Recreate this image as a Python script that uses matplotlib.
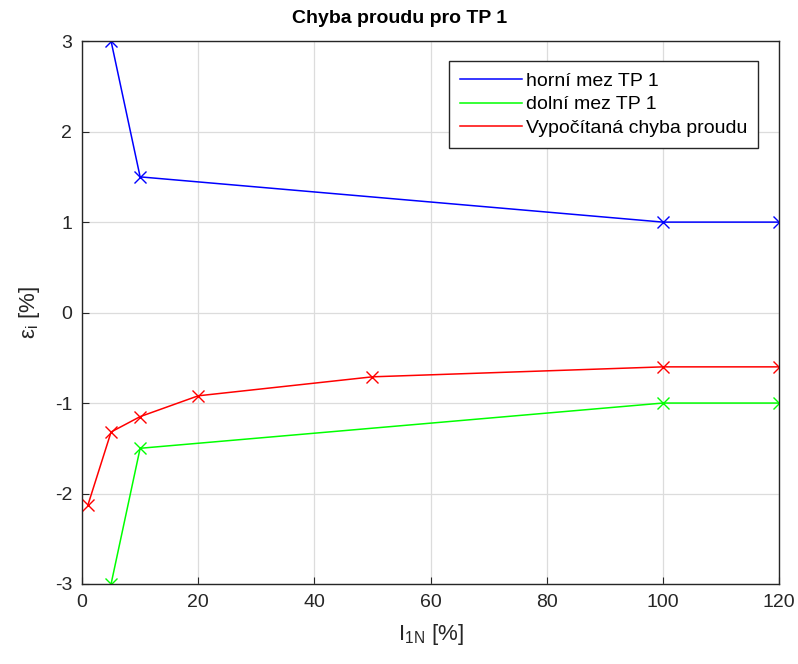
import matplotlib.pyplot as plt

# data
x_meze = [5, 10, 100, 120]
horni_mez = [3, 1.5, 1, 1]
dolni_mez = [-3, -1.5, -1, -1]

x_mereni = [1, 5, 10, 20, 50, 100, 120]
chyba_proudu = [-2.13, -1.32, -1.15, -0.92, -0.71, -0.60, -0.60]

x_ticks = [0, 20, 40, 60, 80, 100, 120]
y_ticks = [-3, -2, -1, 0, 1, 2, 3]

plt.rcParams['font.family'] = ['Liberation Sans', 'DejaVu Sans']
plt.rcParams['axes.unicode_minus'] = False
plt.rcParams['mathtext.fontset'] = 'custom'
plt.rcParams['mathtext.rm'] = 'Liberation Sans'
plt.rcParams['mathtext.it'] = 'Liberation Sans'

fig = plt.figure(figsize=(7.98, 6.64), dpi=100)
ax = fig.add_axes([0.1028, 0.1205, 0.8735, 0.8175])

ax.plot(x_meze, horni_mez, color='#0000ff', marker='x', markersize=8, lw=1.1, label='horní mez TP 1')
ax.plot(x_meze, dolni_mez, color='#00ff00', marker='x', markersize=8, lw=1.1, label='dolní mez TP 1')
ax.plot(x_mereni, chyba_proudu, color='#ff0000', marker='x', markersize=8, lw=1.1, label='Vypočítaná chyba proudu')

ax.set_xlim(0, 120)
ax.set_ylim(-3, 3)
ax.set_xticks(x_ticks)
ax.set_yticks(y_ticks)
ax.grid(True, color='#dcdcdc', lw=0.9)
ax.set_axisbelow(True)
ax.tick_params(direction='in', top=False, right=False, labelsize=14, colors='#262626', length=5)
ax.tick_params(axis='x', pad=7)
ax.tick_params(axis='y', pad=7)
for s in ax.spines.values():
    s.set_color('#262626')
    s.set_linewidth(1.0)

ax.set_title('Chyba proudu pro TP 1', fontsize=14, fontweight='bold', pad=13, x=0.456)
ax.set_xlabel('I$_{\\mathrm{1N}}$ [%]', fontsize=16, color='#262626', labelpad=8)
ax.set_ylabel('ε$_{\\mathrm{i}}$ [%]', fontsize=16, color='#262626', labelpad=9)

leg = ax.legend(loc='upper right', bbox_to_anchor=(0.97, 0.963), fontsize=14, fancybox=False,
                framealpha=1, edgecolor='#262626', handlelength=3.2, handletextpad=0.2,
                labelspacing=0.32, borderpad=0.55, borderaxespad=0)
for h in leg.legend_handles:
    h.set_marker('')

fig.savefig('out.png', dpi=100)
